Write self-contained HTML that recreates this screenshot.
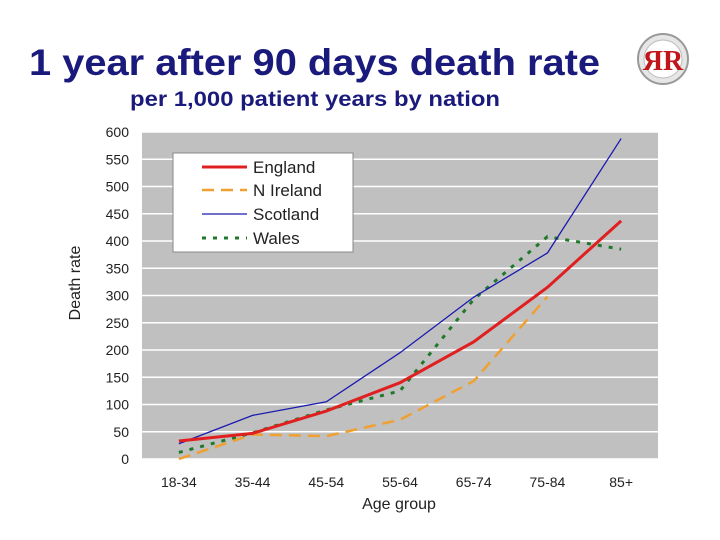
<!DOCTYPE html>
<html><head><meta charset="utf-8"><style>
body{margin:0;background:#fff;}
#wrap{position:relative;width:720px;height:540px;overflow:hidden;font-family:"Liberation Sans",Arial,sans-serif;}
</style></head><body>
<div id="wrap">
<svg id="chart" width="720" height="540">
<text x="29" y="75" font-size="37" font-weight="bold" fill="#1a1a7c" textLength="571" lengthAdjust="spacingAndGlyphs">1 year after 90 days death rate</text>
<text x="130" y="106" font-size="21" font-weight="bold" fill="#1a1a7c" textLength="370" lengthAdjust="spacingAndGlyphs">per 1,000 patient years by nation</text>
<g>
<circle cx="663" cy="59" r="25" fill="#e6e6e6" stroke="#999" stroke-width="2"/>
<circle cx="663" cy="59" r="19" fill="#fff" stroke="#bbb"/>
<text x="663" y="70" font-size="28" font-weight="bold" fill="#c0151b" text-anchor="middle" font-family="Liberation Serif,serif">ЯR</text>
</g>
<rect x="142" y="132" width="516" height="327" fill="#c0c0c0"/>
<g id="grid"></g><g id="ticks"></g><g id="series"></g>
<text x="399" y="509" font-size="16" text-anchor="middle" fill="#222">Age group</text>
<text transform="translate(80,283) rotate(-90)" font-size="16" text-anchor="middle" fill="#222">Death rate</text>
<g>
<rect x="173" y="153" width="180" height="99" fill="#fff" stroke="#888"/>
<g><line x1="202" y1="167" x2="247" y2="167" stroke="#e02020" stroke-width="3"/><text x="253" y="173" font-size="17" fill="#222">England</text></g>
<g><line x1="202" y1="190" x2="247" y2="190" stroke="#f0a030" stroke-width="2.5" stroke-dasharray="12,7"/><text x="253" y="196" font-size="17" fill="#222">N Ireland</text></g>
<g><line x1="202" y1="214" x2="247" y2="214" stroke="#1a1ab0" stroke-width="1.3"/><text x="253" y="220" font-size="17" fill="#222">Scotland</text></g>
<g><line x1="202" y1="238" x2="247" y2="238" stroke="#1e7a2a" stroke-width="3" stroke-dasharray="4,7"/><text x="253" y="244" font-size="17" fill="#222">Wales</text></g>
</g>
</svg>
</div>
<script>
const categories=["18-34","35-44","45-54","55-64","65-74","75-84","85+"];
const yTicks=[0,50,100,150,200,250,300,350,400,450,500,550,600];
const england=[33,47,88,140,215,315,437];
const nIreland=[0,45,42,72,143,298,null];
const scotland=[28,80,105,195,297,378,588];
const wales=[12,48,90,125,293,408,385];
const NS="http://www.w3.org/2000/svg";
const x0=142,x1=658,y0=459,y1=132,ymax=600;
const bw=(x1-x0)/categories.length;
function xs(i){return x0+bw*(i+0.5);}
function ys(v){return y0-(v/ymax)*(y0-y1);}
function mk(t,a,p){const e=document.createElementNS(NS,t);for(const k in a)e.setAttribute(k,a[k]);p.appendChild(e);return e;}
const grid=document.getElementById('grid'),ticks=document.getElementById('ticks'),ser=document.getElementById('series');
yTicks.forEach(v=>{
 const l=mk('line',{x1:x0,x2:x1,y1:ys(v),y2:ys(v),stroke:'#fff','stroke-width':1.5},grid);
 
 
 const t=mk('text',{x:129,y:ys(v)+5,'font-size':14,'text-anchor':'end',fill:'#222'},ticks);
 t.textContent=v;
 
 
});
categories.forEach((c,i)=>{
 const t=mk('text',{x:xs(i),y:487,'font-size':14,'text-anchor':'middle',fill:'#222'},ticks);
 t.textContent=c;
 
 
});
function line(data,style,name){
 const pts=[];data.forEach((v,i)=>{if(v!==null)pts.push(xs(i)+','+ys(v));});
 const p=mk('polyline',Object.assign({points:pts.join(' '),fill:'none'},style),ser);
 
 
}
line(nIreland,{stroke:'#f0a030','stroke-width':2.5,'stroke-dasharray':'12,7'},'series-n-ireland');
line(wales,{stroke:'#1e7a2a','stroke-width':3,'stroke-dasharray':'4,7'},'series-wales');
line(scotland,{stroke:'#1a1ab0','stroke-width':1.3},'series-scotland');
line(england,{stroke:'#e02020','stroke-width':3},'series-england');
</script>
</body></html>
